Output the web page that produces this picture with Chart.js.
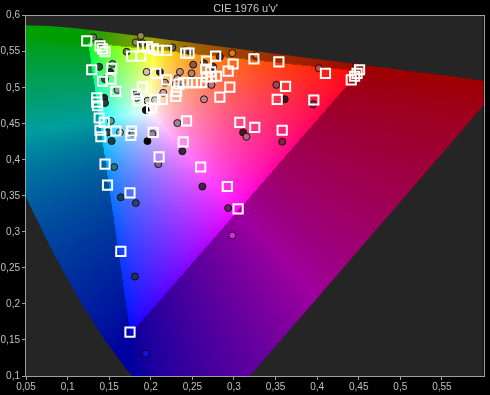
<!DOCTYPE html>
<html>
<head>
<meta charset="utf-8">
<script src="https://cdn.jsdelivr.net/npm/chart.js@4.4.1/dist/chart.umd.min.js"></script>
<style>
  html, body { margin: 0; padding: 0; background: #000; overflow: hidden; }
  #wrap { width: 492px; height: 395px; }
</style>
</head>
<body>
<div id="wrap"><canvas id="cie"></canvas></div>
<script>
// Tick labels
const xTicks = [0.05, 0.1, 0.15, 0.2, 0.25, 0.3, 0.35, 0.4, 0.45, 0.5, 0.55];
const yTicks = [0.1, 0.15, 0.2, 0.25, 0.3, 0.35, 0.4, 0.45, 0.5, 0.55, 0.6];

// Spectral locus (380..700 nm) in u'v'
const locusU = [0.2568, 0.2522, 0.2347, 0.2161, 0.1877, 0.1690, 0.1440, 0.1147, 0.0828, 0.0521, 0.0282, 0.0119, 0.0035, 0.0014, 0.0046, 0.0123, 0.0231, 0.0501, 0.0792, 0.1127, 0.1531, 0.2026, 0.2623, 0.3315, 0.4035, 0.4692, 0.5203, 0.5565, 0.5830, 0.6005, 0.6234];
const locusV = [0.0166, 0.0169, 0.0350, 0.0549, 0.0871, 0.1119, 0.1510, 0.2044, 0.2708, 0.3427, 0.4117, 0.4699, 0.5131, 0.5431, 0.5640, 0.5770, 0.5837, 0.5868, 0.5856, 0.5821, 0.5766, 0.5694, 0.5604, 0.5501, 0.5393, 0.5296, 0.5219, 0.5165, 0.5125, 0.5099, 0.5065];

// Reference targets (squares)
const refU = [0.123, 0.139, 0.142, 0.145, 0.129, 0.153, 0.142, 0.152, 0.158, 0.135, 0.135, 0.136, 0.138, 0.144,
  0.190, 0.196, 0.203, 0.209, 0.219, 0.177, 0.188, 0.206, 0.190, 0.183, 0.185, 0.201, 0.205, 0.214, 0.219,
  0.230, 0.231, 0.234, 0.239, 0.244, 0.250, 0.255, 0.261, 0.267, 0.273, 0.279, 0.272, 0.242, 0.246, 0.267,
  0.278, 0.299, 0.293, 0.266, 0.295, 0.283, 0.324, 0.354, 0.362, 0.352, 0.396, 0.410, 0.441, 0.445, 0.448,
  0.451, 0.243, 0.307, 0.325, 0.358, 0.139, 0.140, 0.158, 0.177, 0.176, 0.203, 0.239, 0.210, 0.145, 0.260,
  0.148, 0.175, 0.292, 0.305, 0.164, 0.175];
const refV = [0.565, 0.558, 0.554, 0.550, 0.525, 0.527, 0.509, 0.512, 0.495, 0.486, 0.480, 0.475, 0.458, 0.452,
  0.557, 0.557, 0.554, 0.552, 0.552, 0.544, 0.544, 0.520, 0.501, 0.491, 0.482, 0.472, 0.483, 0.484, 0.511,
  0.488, 0.495, 0.505, 0.507, 0.507, 0.507, 0.507, 0.507, 0.515, 0.515, 0.516, 0.522, 0.548, 0.548, 0.537,
  0.544, 0.533, 0.523, 0.526, 0.501, 0.487, 0.540, 0.536, 0.502, 0.484, 0.483, 0.520, 0.511, 0.516, 0.520,
  0.525, 0.454, 0.452, 0.445, 0.441, 0.441, 0.432, 0.440, 0.440, 0.434, 0.438, 0.425, 0.404, 0.394, 0.390,
  0.365, 0.354, 0.363, 0.332, 0.273, 0.161];

// Measured points (circles)
const measU = [0.131, 0.139, 0.188, 0.182, 0.190, 0.226, 0.171, 0.248, 0.241, 0.298, 0.327, 0.283, 0.154,
  0.138, 0.151, 0.145, 0.251, 0.264, 0.275, 0.195, 0.211, 0.235, 0.249, 0.232, 0.237, 0.230, 0.217, 0.273,
  0.160, 0.144, 0.145, 0.182, 0.183, 0.196, 0.205, 0.215, 0.264, 0.351, 0.361, 0.395, 0.402, 0.447, 0.194,
  0.232, 0.152, 0.148, 0.163, 0.178, 0.202, 0.196, 0.153, 0.311, 0.315, 0.358, 0.238, 0.209, 0.156, 0.262,
  0.164, 0.182, 0.293, 0.298, 0.181, 0.194];
const measV = [0.570, 0.563, 0.572, 0.563, 0.562, 0.556, 0.550, 0.550, 0.552, 0.548, 0.545, 0.543, 0.533,
  0.529, 0.522, 0.512, 0.532, 0.534, 0.529, 0.522, 0.522, 0.522, 0.520, 0.513, 0.508, 0.505, 0.507, 0.504,
  0.497, 0.486, 0.479, 0.491, 0.486, 0.482, 0.483, 0.493, 0.484, 0.504, 0.484, 0.477, 0.527, 0.530, 0.469,
  0.451, 0.454, 0.438, 0.438, 0.437, 0.436, 0.426, 0.426, 0.438, 0.432, 0.425, 0.412, 0.394, 0.390, 0.363,
  0.348, 0.340, 0.333, 0.295, 0.238, 0.131];
const measColor = ['#4f8a45', '#3d6b3d', '#8c8a50', '#8f8c45', '#7d7a42', '#6e5c35', '#6b7a35', '#5c4a30', '#6a5233',
  '#e07812', '#d46a12', '#553322', '#5f8f5f', '#224d33', '#12301f', '#2d5c42', '#8c5c42', '#5c3b30', '#4a3030',
  '#d2c4a2', '#2e2618', '#c49272', '#b38262', '#c49484', '#a37262', '#d4a494', '#c29282', '#c47282', '#82a292',
  '#123232', '#224242', '#b2c2b2', '#a2b2a2', '#c2c2ba', '#d2cac2', '#d2a2a2', '#c28292', '#a24252', '#42121a',
  '#922242', '#c44444', '#c42222', '#111111', '#a28292', '#52a292', '#125252', '#82b2b2', '#728282', '#928a92',
  '#000000', '#124242', '#521222', '#c26282', '#822242', '#422242', '#826282', '#227282', '#422242', '#124262',
  '#324272', '#622262', '#e022e0', '#223252', '#1212e2'];

// colour of a u'v' chromaticity (sRGB primaries, out of gamut darkened)
function uvColor(u, v) {
  const d = 6 * u - 16 * v + 12;
  const x = 9 * u / d, y = 4 * v / d;
  const X = x / y, Z = (1 - x - y) / y;
  let r = 3.2406 * X - 1.5372 - 0.4986 * Z;
  let g = -0.9689 * X + 1.8758 + 0.0415 * Z;
  let b = 0.0557 * X - 0.2040 + 1.0570 * Z;
  const out = r < 0 || g < 0 || b < 0;
  r = Math.max(r, 0); g = Math.max(g, 0); b = Math.max(b, 0);
  const m = Math.max(r, g, b) || 1;
  const k = out ? 0.62 : 1;
  return [r, g, b].map(c => Math.round(255 * k * Math.pow(c / m, 1 / 1.5)));
}

const gamutBg = {
  id: 'gamutBg',
  beforeDraw(chart) {
    const ctx = chart.ctx;
    ctx.save();
    ctx.fillStyle = '#000';
    ctx.fillRect(0, 0, chart.width, chart.height);
    ctx.restore();
  },
  beforeDatasetsDraw(chart) {
    const { ctx, chartArea: a, scales: { x, y } } = chart;
    const w = Math.ceil(a.right - a.left), h = Math.ceil(a.bottom - a.top);
    ctx.save();
    ctx.fillStyle = '#252525';
    ctx.fillRect(a.left, a.top, a.right - a.left, a.bottom - a.top);

    const off = document.createElement('canvas');
    off.width = w; off.height = h;
    const octx = off.getContext('2d');
    const img = octx.createImageData(w, h);
    for (let j = 0; j < h; j++) {
      const v = y.getValueForPixel(a.top + j + 0.5);
      for (let i = 0; i < w; i++) {
        const u = x.getValueForPixel(a.left + i + 0.5);
        const c = uvColor(u, v);
        const p = (j * w + i) * 4;
        img.data[p] = c[0]; img.data[p + 1] = c[1]; img.data[p + 2] = c[2]; img.data[p + 3] = 255;
      }
    }
    octx.putImageData(img, 0, 0);

    ctx.beginPath();
    ctx.rect(a.left, a.top, a.right - a.left, a.bottom - a.top);
    ctx.clip();
    ctx.beginPath();
    locusU.forEach((u, k) => {
      const px = x.getPixelForValue(u), py = y.getPixelForValue(locusV[k]);
      if (k) ctx.lineTo(px, py); else ctx.moveTo(px, py);
    });
    ctx.closePath();
    ctx.clip();
    ctx.drawImage(off, a.left, a.top);
    ctx.restore();

    // frame
    ctx.save();
    ctx.strokeStyle = '#a0a0a0';
    ctx.lineWidth = 1;
    ctx.strokeRect(Math.round(a.left) - 0.5, Math.round(a.top) - 0.5,
      Math.round(a.right - a.left) + 1, Math.round(a.bottom - a.top) + 1);
    ctx.restore();
  }
};

const fmt = v => String(v).replace('.', ',');
const tickFont = { family: 'Liberation Sans', size: 10 };

new Chart(document.getElementById('cie'), {
  type: 'scatter',
  data: {
    datasets: [{
      label: 'Reference',
      data: refU.map((u, i) => ({ x: u, y: refV[i] })),
      pointStyle: 'rect',
      pointRadius: 6.5,
      borderWidth: 2,
      borderColor: '#ffffff',
      backgroundColor: 'rgba(0,0,0,0)'
    }, {
      label: 'Measured',
      data: measU.map((u, i) => ({ x: u, y: measV[i] })),
      pointStyle: 'circle',
      pointRadius: 3.5,
      borderWidth: 1,
      borderColor: 'rgba(10,10,10,0.9)',
      backgroundColor: measColor
    }]
  },
  options: {
    responsive: true,
    maintainAspectRatio: false,
    animation: false,
    layout: { padding: { right: 1 } },
    plugins: {
      legend: { display: false },
      tooltip: { enabled: false },
      title: {
        display: true,
        text: "CIE 1976 u'v'",
        color: '#c8c8c8',
        font: { family: 'Liberation Sans', size: 11, weight: 'normal' },
        padding: { top: 2, bottom: 0.5 }
      }
    },
    scales: {
      x: {
        type: 'linear',
        min: 0.05,
        max: 0.6,
        afterBuildTicks: s => { s.ticks = xTicks.map(v => ({ value: v })); },
        afterFit: s => { s.height = 19; s.paddingLeft = 0; s.paddingRight = 0; },
        ticks: { color: '#c0c0c0', font: tickFont, padding: 1, maxRotation: 0, callback: fmt },
        grid: { drawOnChartArea: false, drawTicks: true, tickLength: 4, color: '#a0a0a0' },
        border: { display: false }
      },
      y: {
        type: 'linear',
        min: 0.1,
        max: 0.6,
        afterBuildTicks: s => { s.ticks = yTicks.map(v => ({ value: v })); },
        afterFit: s => { s.width = 26; s.paddingTop = 0; s.paddingBottom = 0; },
        ticks: { color: '#c0c0c0', font: tickFont, padding: 2, callback: fmt },
        grid: { drawOnChartArea: false, drawTicks: true, tickLength: 4, color: '#a0a0a0' },
        border: { display: false }
      }
    }
  },
  plugins: [gamutBg]
});
</script>
</body>
</html>
